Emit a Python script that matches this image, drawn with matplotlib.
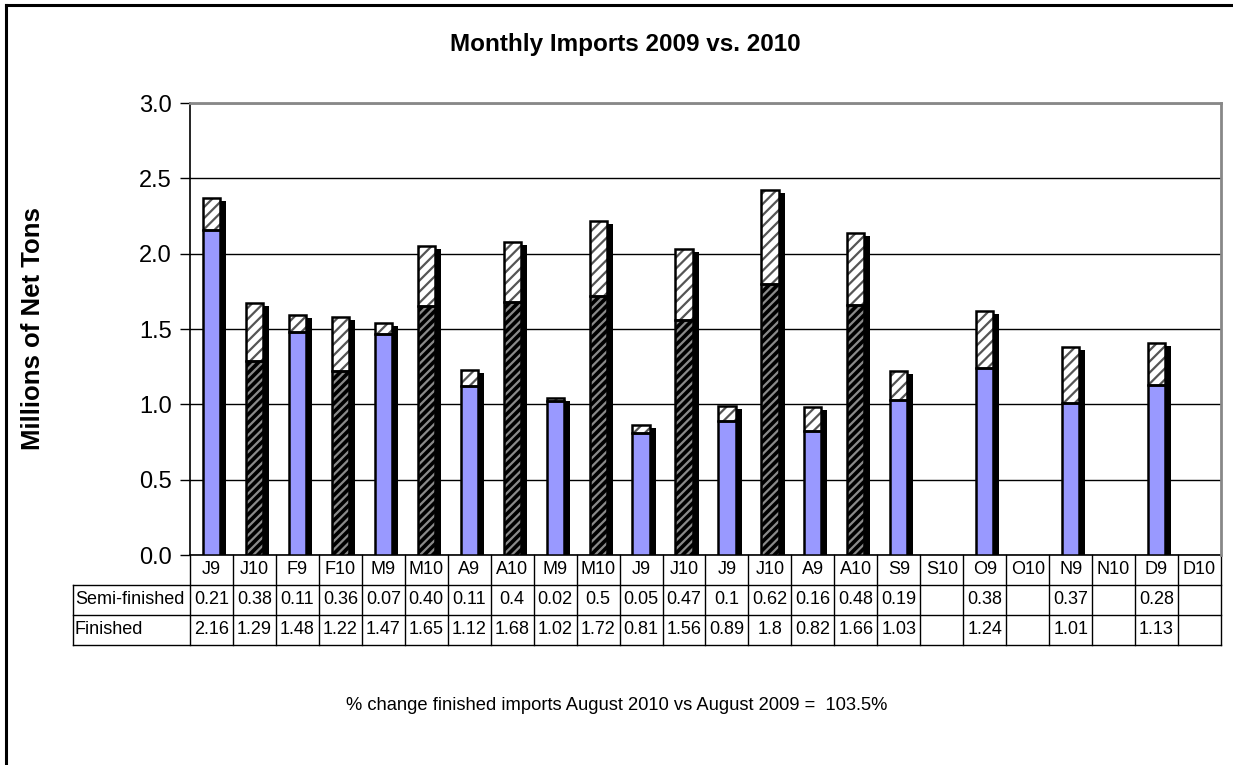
#!/usr/bin/env python3
"""Monthly imports 2009 vs. 2010: stacked finished / semi-finished bars with an Excel-style data table."""

import matplotlib
matplotlib.use("Agg")
import matplotlib.pyplot as plt
from matplotlib.lines import Line2D

months = ["J9", "J10", "F9", "F10", "M9", "M10", "A9", "A10", "M9", "M10", "J9", "J10",
          "J9", "J10", "A9", "A10", "S9", "S10", "O9", "O10", "N9", "N10", "D9", "D10"]
semi_txt = ["0.21", "0.38", "0.11", "0.36", "0.07", "0.40", "0.11", "0.4", "0.02", "0.5",
            "0.05", "0.47", "0.1", "0.62", "0.16", "0.48", "0.19", "", "0.38", "", "0.37", "", "0.28", ""]
finished_txt = ["2.16", "1.29", "1.48", "1.22", "1.47", "1.65", "1.12", "1.68", "1.02", "1.72",
                "0.81", "1.56", "0.89", "1.8", "0.82", "1.66", "1.03", "", "1.24", "", "1.01", "", "1.13", ""]
footnote = "% change finished imports August 2010 vs August 2009 =  103.5%"

semi = [float(s) if s else 0.0 for s in semi_txt]
finished = [float(s) if s else 0.0 for s in finished_txt]

plt.rcParams["font.family"] = ["Liberation Sans", "DejaVu Sans"]
plt.rcParams["hatch.linewidth"] = 1.6

W, H = 1233, 765
fig = plt.figure(figsize=(W / 100, H / 100), dpi=100)
ax = fig.add_axes([190 / W, 1 - 555 / H, 1031 / W, 452 / H])

n = len(months)
xs = list(range(n))
bw = 0.40
px_x = 1031 / n          # pixels per category
dx = 6 / px_x            # shadow offset
dy = 3 / (452 / 3.0)
tfs = 13

totals = [f + s for f, s in zip(finished, semi)]
is10 = [m.endswith("10") for m in months]

# shadows
ax.bar([x + dx for x in xs], [max(t - dy, 0) for t in totals], width=bw,
       color="black", zorder=2)

for x, f, s, new in zip(xs, finished, semi, is10):
    if f + s == 0:
        continue
    if new:
        ax.bar(x, f, width=bw, facecolor="black", edgecolor="#8a8a8a",
               hatch="////", linewidth=0, zorder=3)
    else:
        ax.bar(x, f, width=bw, facecolor="#9999FF", linewidth=0, zorder=3)
    ax.bar(x, f, width=bw, facecolor="none", edgecolor="black", linewidth=1.8, zorder=4)
    ax.bar(x, s, bottom=f, width=bw, facecolor="white", edgecolor="#555555",
           hatch="///", linewidth=0, zorder=3)
    ax.bar(x, s, bottom=f, width=bw, facecolor="none", edgecolor="black",
           linewidth=1.8, zorder=4)

ax.set_xlim(-0.5, n - 0.5)
ax.set_ylim(0, 3.0)
ax.set_yticks([0, 0.5, 1.0, 1.5, 2.0, 2.5, 3.0])
ax.set_yticklabels(["0.0", "0.5", "1.0", "1.5", "2.0", "2.5", "3.0"], fontsize=17)
ax.tick_params(axis="y", length=7, width=1, direction="out", pad=6)
ax.set_xticks([])
ax.yaxis.grid(True, color="black", linewidth=1)
ax.set_axisbelow(True)
for side in ("top", "right"):
    ax.spines[side].set_color("#888888")
    ax.spines[side].set_linewidth(2)
    ax.spines[side].set_zorder(5)
ax.spines["left"].set_linewidth(1.2)
ax.spines["bottom"].set_linewidth(1.2)

ax.set_ylabel("Millions of Net Tons", fontsize=18.5, fontweight="bold")
ax.yaxis.set_label_coords((45 - 190) / 1031, 0.5)
fig.suptitle("Monthly Imports 2009 vs. 2010", fontsize=17.5, fontweight="bold",
             x=625 / W, y=1 - 45 / H, va="center")

# data table below the axis
rh = 30 / 452
lab_w = 117 / 1031
xt = ax.get_xaxis_transform()
for i in range(n + 1):
    ax.plot([i - 0.5, i - 0.5], [0, -3 * rh], color="black", lw=1, transform=xt, clip_on=False)
ax.plot([-lab_w, -lab_w], [-rh, -3 * rh], color="black", lw=1, transform=ax.transAxes, clip_on=False)
for k in (1, 2, 3):
    ax.plot([-lab_w, 1], [-k * rh, -k * rh], color="black", lw=1, transform=ax.transAxes, clip_on=False)

for x, m, s, f in zip(xs, months, semi_txt, finished_txt):
    ax.text(x, -0.5 * rh, m, ha="center", va="center", fontsize=tfs, transform=xt)
    ax.text(x, -1.5 * rh, s, ha="center", va="center", fontsize=tfs, transform=xt)
    ax.text(x, -2.5 * rh, f, ha="center", va="center", fontsize=tfs, transform=xt)
ax.text(-lab_w + 2 / 1031, -1.5 * rh, "Semi-finished", ha="left", va="center",
        fontsize=tfs, transform=ax.transAxes)
ax.text(-lab_w + 2 / 1031, -2.5 * rh, "Finished", ha="left", va="center",
        fontsize=tfs, transform=ax.transAxes)

fig.text(0.5, 1 - 705 / H, footnote, ha="center", va="center", fontsize=13.2)

# outer chart frame (only left and top edges fall inside the picture)
fig.add_artist(Line2D([6 / W, 6 / W], [0, 1 - 5 / H], color="black", lw=2.2, transform=fig.transFigure))
fig.add_artist(Line2D([6 / W, 1], [1 - 5 / H, 1 - 5 / H], color="black", lw=2.2, transform=fig.transFigure))

fig.savefig("out.png", dpi=100)
